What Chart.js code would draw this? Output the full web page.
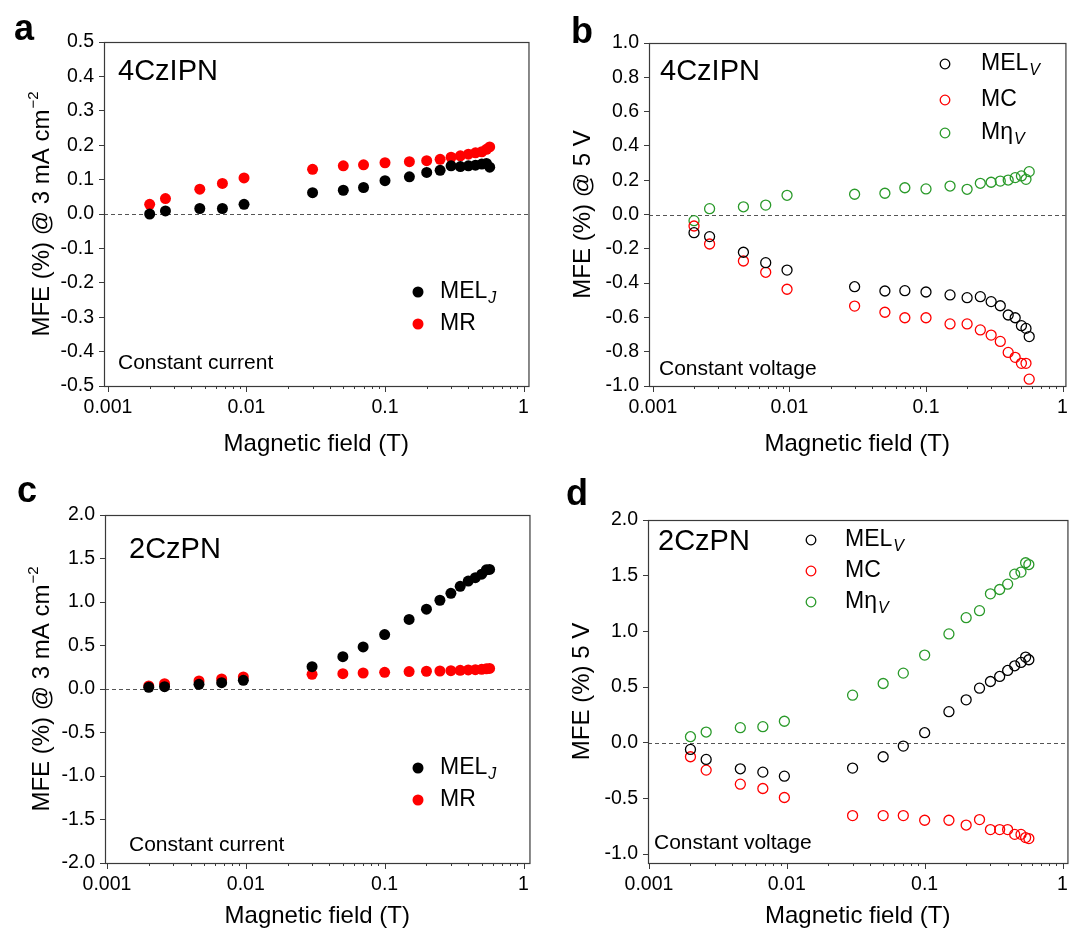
<!DOCTYPE html>
<html>
<head>
<meta charset="utf-8">
<script src="https://cdn.jsdelivr.net/npm/chart.js@4"></script>
<style>
  html, body { margin: 0; padding: 0; background: #fff; }
  #wrap { position: relative; width: 1078px; height: 932px; }
  canvas { position: absolute; }
</style>
</head>
<body>
<div id="wrap">
  <canvas id="panelA" width="539" height="466" style="left:0;top:0"></canvas>
  <canvas id="panelB" width="539" height="466" style="left:539px;top:0"></canvas>
  <canvas id="panelC" width="539" height="466" style="left:0;top:466px"></canvas>
  <canvas id="panelD" width="539" height="466" style="left:539px;top:466px"></canvas>
</div>
<script>
// magnetic field (T), same sweep for all four panels
const fieldT = [0.002, 0.0026, 0.0046, 0.0067, 0.0096, 0.03, 0.05, 0.07, 0.1, 0.15,
  0.2, 0.25, 0.3, 0.35, 0.4, 0.45, 0.5, 0.54, 0.57];

// a: 4CzIPN, constant current
const melJ_4CzIPN = [0.0, 0.009, 0.016, 0.016, 0.028, 0.062, 0.069, 0.077, 0.097, 0.108,
  0.121, 0.127, 0.140, 0.138, 0.140, 0.142, 0.145, 0.147, 0.136];
const mr_4CzIPN = [0.028, 0.045, 0.072, 0.089, 0.105, 0.130, 0.140, 0.143, 0.149, 0.152,
  0.155, 0.159, 0.165, 0.169, 0.174, 0.178, 0.181, 0.188, 0.195];

// b: 4CzIPN, constant voltage
const melV_4CzIPN = [-0.106, -0.129, -0.220, -0.281, -0.324, -0.421, -0.446, -0.444, -0.452, -0.469,
  -0.485, -0.479, -0.508, -0.532, -0.586, -0.602, -0.648, -0.664, -0.712];
const mc_4CzIPN = [-0.067, -0.172, -0.271, -0.337, -0.436, -0.534, -0.570, -0.602, -0.602, -0.638,
  -0.638, -0.673, -0.703, -0.740, -0.804, -0.833, -0.868, -0.868, -0.960];
const meta_4CzIPN = [-0.036, 0.034, 0.045, 0.055, 0.112, 0.118, 0.124, 0.156, 0.149, 0.166,
  0.147, 0.182, 0.188, 0.195, 0.201, 0.215, 0.225, 0.205, 0.250];

// c: 2CzPN, constant current
const melJ_2CzPN = [0.02, 0.027, 0.054, 0.073, 0.10, 0.257, 0.372, 0.484, 0.626, 0.80,
  0.917, 1.02, 1.10, 1.18, 1.24, 1.28, 1.32, 1.37, 1.375];
const mr_2CzPN = [0.035, 0.061, 0.092, 0.115, 0.138, 0.169, 0.176, 0.184, 0.192, 0.200,
  0.204, 0.207, 0.211, 0.215, 0.219, 0.222, 0.226, 0.232, 0.236];

// d: 2CzPN, constant voltage
const melV_2CzPN = [-0.06, -0.15, -0.234, -0.264, -0.30, -0.228, -0.126, -0.03, 0.09, 0.279,
  0.385, 0.49, 0.55, 0.595, 0.649, 0.691, 0.721, 0.769, 0.745];
const mc_2CzPN = [-0.126, -0.246, -0.372, -0.411, -0.492, -0.654, -0.654, -0.654, -0.696, -0.696,
  -0.739, -0.69, -0.78, -0.78, -0.78, -0.823, -0.823, -0.852, -0.861];
const meta_2CzPN = [0.054, 0.096, 0.135, 0.144, 0.193, 0.427, 0.532, 0.625, 0.787, 0.977,
  1.123, 1.186, 1.337, 1.376, 1.424, 1.514, 1.532, 1.616, 1.60];

// tick labels
const xTicks = [0.001, 0.01, 0.1, 1];
const yTicksA = [-0.5, -0.4, -0.3, -0.2, -0.1, 0, 0.1, 0.2, 0.3, 0.4, 0.5];
const yTicksB = [-1.0, -0.8, -0.6, -0.4, -0.2, 0, 0.2, 0.4, 0.6, 0.8, 1.0];
const yTicksC = [-2.0, -1.5, -1.0, -0.5, 0, 0.5, 1.0, 1.5, 2.0];
const yTicksD = [-1.0, -0.5, 0, 0.5, 1.0, 1.5, 2.0];

const FONT = "'Liberation Sans', Arial, Helvetica, sans-serif";
const BLACK = '#000000', RED = '#ff0000', GREEN = '#2a9a2a';

function pts(ys) {
  return ys.map((v, i) => ({ x: fieldT[i], y: v }));
}

function drawSubText(ctx, x, y, main, sub, size) {
  ctx.font = size + 'px ' + FONT;
  ctx.textBaseline = 'middle';
  ctx.fillText(main, x, y);
  if (sub) {
    const w = ctx.measureText(main).width;
    ctx.font = 'italic ' + Math.round(size * 0.68) + 'px ' + FONT;
    ctx.fillText(sub, x + w + 1, y + 7);
  }
}

// frame, ticks, labels and legend for one panel
function makeDecor(p) {
  return {
    id: 'decor',
    beforeDatasetsDraw(chart) {
      const { ctx, chartArea: ca, scales: { y } } = chart;
      const y0 = Math.round(y.getPixelForValue(0)) + 0.5;
      ctx.save();
      ctx.strokeStyle = '#555';
      ctx.lineWidth = 1;
      ctx.setLineDash([4, 3]);
      ctx.beginPath();
      ctx.moveTo(ca.left, y0);
      ctx.lineTo(ca.right, y0);
      ctx.stroke();
      ctx.restore();
    },
    afterDraw(chart) {
      const { ctx, chartArea: ca, scales: { x } } = chart;
      ctx.save();
      // box
      ctx.strokeStyle = '#3a3a3a';
      ctx.lineWidth = 1.2;
      ctx.strokeRect(ca.left + 0.5, ca.top + 0.5, ca.right - ca.left, ca.bottom - ca.top);

      // log ticks on x
      ctx.lineWidth = 1;
      ctx.beginPath();
      for (let e = -4; e <= 0; e++) {
        for (let k = 1; k <= 9; k++) {
          const v = k * Math.pow(10, e);
          if (v < x.min || v > x.max) continue;
          const px = Math.round(x.getPixelForValue(v)) + 0.5;
          ctx.moveTo(px, ca.bottom);
          ctx.lineTo(px, ca.bottom + (k === 1 ? 6 : 3));
        }
      }
      ctx.stroke();

      ctx.fillStyle = '#000';
      // y title with superscript
      ctx.save();
      ctx.translate(p.yTitleX, (ca.top + ca.bottom) / 2);
      ctx.rotate(-Math.PI / 2);
      ctx.textBaseline = 'middle';
      ctx.font = '24px ' + FONT;
      const w1 = ctx.measureText(p.yTitle).width;
      let w2 = 0;
      if (p.yTitleSup) {
        ctx.font = '15px ' + FONT;
        w2 = ctx.measureText(p.yTitleSup).width + 1;
      }
      const sx = -(w1 + w2) / 2;
      ctx.font = '24px ' + FONT;
      ctx.fillText(p.yTitle, sx, 0);
      if (p.yTitleSup) {
        ctx.font = '15px ' + FONT;
        ctx.fillText(p.yTitleSup, sx + w1 + 1, -8);
      }
      ctx.restore();

      // panel letter
      ctx.font = 'bold 36px ' + FONT;
      ctx.textBaseline = 'alphabetic';
      ctx.fillText(p.letter, p.letterX, p.letterY);

      // compound name and condition
      ctx.font = '29px ' + FONT;
      ctx.textBaseline = 'middle';
      ctx.fillText(p.name, p.nameX, p.nameY);
      ctx.font = '21px ' + FONT;
      ctx.fillText(p.cond, p.condX, p.condY);

      // legend
      p.legend.forEach((it, i) => {
        const ly = p.legendY[i];
        ctx.beginPath();
        ctx.arc(p.legendX, ly, it.filled ? 5.5 : 4.8, 0, Math.PI * 2);
        if (it.filled) {
          ctx.fillStyle = it.color;
          ctx.fill();
        } else {
          ctx.strokeStyle = it.color;
          ctx.lineWidth = 1.3;
          ctx.stroke();
        }
        ctx.fillStyle = '#000';
        drawSubText(ctx, p.legendTextX, ly, it.main, it.sub, 23);
      });
      ctx.restore();
    }
  };
}

function makeChart(p) {
  const datasets = p.series.map(s => ({
    label: s.main + (s.sub || ''),
    data: pts(s.values),
    pointRadius: s.filled ? 5.5 : 5,
    pointBackgroundColor: s.filled ? s.color : 'rgba(0,0,0,0)',
    pointBorderColor: s.color,
    pointBorderWidth: s.filled ? 0 : 1.3,
    showLine: false
  }));
  return new Chart(document.getElementById(p.canvas), {
    type: 'scatter',
    data: { datasets },
    options: {
      responsive: false,
      animation: false,
      events: [],
      layout: { padding: { top: p.padTop, right: p.padRight, left: 0, bottom: 0 } },
      plugins: { legend: { display: false }, tooltip: { enabled: false } },
      scales: {
        x: {
          type: 'logarithmic',
          min: p.xMin,
          max: p.xMax,
          bounds: 'data',
          afterBuildTicks: s => { s.ticks = xTicks.map(v => ({ value: v, major: true })); },
          afterFit: s => { s.height = p.xH; },
          grid: { display: false, drawTicks: false },
          border: { display: false },
          ticks: {
            autoSkip: false, maxRotation: 0, padding: 10, color: '#000',
            font: { family: FONT, size: 19.5 },
            callback: v => String(v)
          },
          title: {
            display: true, text: 'Magnetic field (T)', color: '#000',
            font: { family: FONT, size: 24, lineHeight: 1 },
            padding: { top: 0, bottom: p.xTitlePad }
          }
        },
        y: {
          min: p.yMin,
          max: p.yMax,
          bounds: 'data',
          afterBuildTicks: s => { s.ticks = p.yTicks.map(v => ({ value: v })); },
          afterFit: s => { s.width = p.yW; },
          grid: { display: true, drawOnChartArea: false, drawTicks: true, tickLength: 5, color: '#3a3a3a' },
          border: { display: true, color: '#3a3a3a' },
          ticks: {
            autoSkip: false, padding: 5, color: '#000',
            font: { family: FONT, size: 19.5 },
            callback: v => Number(v).toFixed(1)
          }
        }
      }
    },
    plugins: [makeDecor(p)]
  });
}

makeChart({
  canvas: 'panelA', letter: 'a', letterX: 14, letterY: 40,
  padTop: 42, padRight: 5, yW: 104, xH: 80, xTitlePad: 10,
  xMin: 0.000936, xMax: 1.086, yMin: -0.5, yMax: 0.5, yTicks: yTicksA,
  yTitle: 'MFE (%) @ 3 mA cm', yTitleSup: '\u22122', yTitleX: 42,
  name: '4CzIPN', nameX: 118, nameY: 72,
  cond: 'Constant current', condX: 118, condY: 363,
  legendX: 418, legendTextX: 440, legendY: [292, 324],
  series: [
    { main: 'MEL', sub: 'J', values: melJ_4CzIPN, color: BLACK, filled: true },
    { main: 'MR', values: mr_4CzIPN, color: RED, filled: true }
  ],
  get legend() { return this.series; }
});

makeChart({
  canvas: 'panelB', letter: 'b', letterX: 32, letterY: 43,
  padTop: 43, padRight: 2, yW: 110, xH: 80, xTitlePad: 10,
  xMin: 0.000936, xMax: 1.05, yMin: -1.0, yMax: 1.0, yTicks: yTicksB,
  yTitle: 'MFE (%) @ 5 V', yTitleX: 44,
  name: '4CzIPN', nameX: 121, nameY: 72,
  cond: 'Constant voltage', condX: 120, condY: 369,
  legendX: 406, legendTextX: 442, legendY: [64, 100, 133],
  series: [
    { main: 'MEL', sub: 'V', values: melV_4CzIPN, color: BLACK, filled: false },
    { main: 'MC', values: mc_4CzIPN, color: RED, filled: false },
    { main: 'M\u03B7', sub: 'V', values: meta_4CzIPN, color: GREEN, filled: false }
  ],
  get legend() { return this.series; }
});

makeChart({
  canvas: 'panelC', letter: 'c', letterX: 17, letterY: 36,
  padTop: 49, padRight: 5, yW: 105, xH: 69, xTitlePad: 4,
  xMin: 0.000968, xMax: 1.104, yMin: -2.0, yMax: 2.0, yTicks: yTicksC,
  yTitle: 'MFE (%) @ 3 mA cm', yTitleSup: '\u22122', yTitleX: 42,
  name: '2CzPN', nameX: 129, nameY: 84,
  cond: 'Constant current', condX: 129, condY: 379,
  legendX: 418, legendTextX: 440, legendY: [302, 334],
  series: [
    { main: 'MEL', sub: 'J', values: melJ_2CzPN, color: BLACK, filled: true },
    { main: 'MR', values: mr_2CzPN, color: RED, filled: true }
  ],
  get legend() { return this.series; }
});

makeChart({
  canvas: 'panelD', letter: 'd', letterX: 27, letterY: 39,
  padTop: 54, padRight: 4, yW: 109, xH: 69, xTitlePad: 4,
  xMin: 0.000984, xMax: 1.086, yMin: -1.08, yMax: 2.0, yTicks: yTicksD,
  yTitle: 'MFE (%) 5 V', yTitleX: 43,
  name: '2CzPN', nameX: 119, nameY: 76,
  cond: 'Constant voltage', condX: 115, condY: 377,
  legendX: 272, legendTextX: 306, legendY: [74, 105, 136],
  series: [
    { main: 'MEL', sub: 'V', values: melV_2CzPN, color: BLACK, filled: false },
    { main: 'MC', values: mc_2CzPN, color: RED, filled: false },
    { main: 'M\u03B7', sub: 'V', values: meta_2CzPN, color: GREEN, filled: false }
  ],
  get legend() { return this.series; }
});
</script>
</body>
</html>
